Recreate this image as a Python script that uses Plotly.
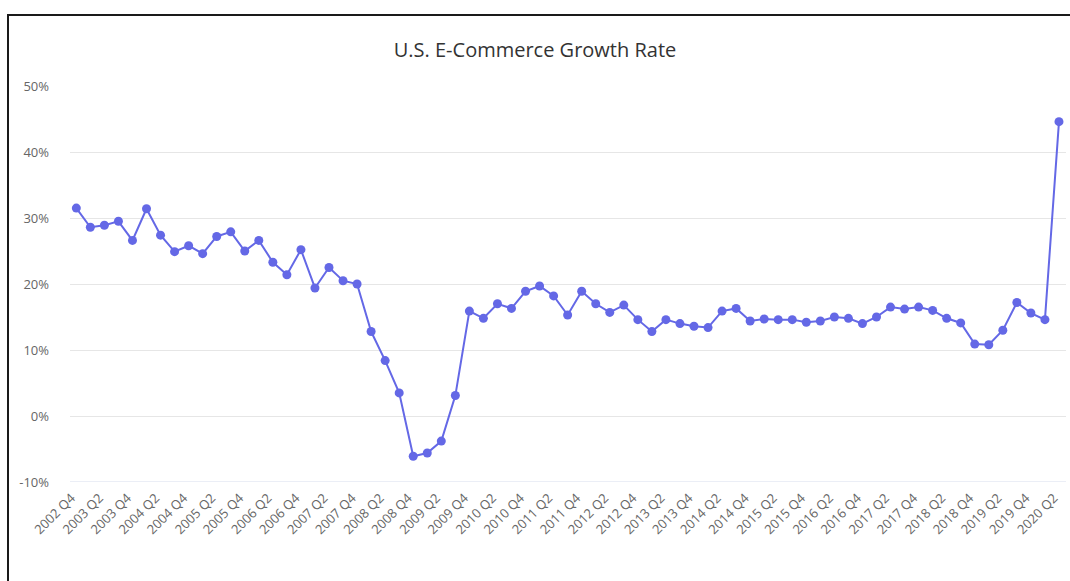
import plotly.graph_objects as go

# Quarterly labels, 2002 Q4 through 2020 Q2
quarters = []
for year in range(2002, 2021):
    for q in range(1, 5):
        if (year == 2002 and q < 4) or (year == 2020 and q > 2):
            continue
        quarters.append(f"{year} Q{q}")

# Year-over-year growth of U.S. e-commerce sales, percent
growth = [
    31.5, 28.6, 28.9, 29.5, 26.6, 31.4, 27.4, 24.9, 25.8, 24.6,
    27.2, 27.9, 25.0, 26.6, 23.3, 21.4, 25.2, 19.4, 22.5, 20.5,
    20.0, 12.8, 8.4, 3.5, -6.1, -5.6, -3.8, 3.1, 15.9, 14.8,
    17.0, 16.3, 18.9, 19.7, 18.2, 15.3, 18.9, 17.0, 15.7, 16.8,
    14.6, 12.8, 14.6, 14.0, 13.6, 13.4, 15.9, 16.3, 14.4, 14.7,
    14.6, 14.6, 14.2, 14.4, 15.0, 14.8, 14.0, 15.0, 16.5, 16.2,
    16.5, 16.0, 14.8, 14.1, 10.9, 10.8, 13.0, 17.2, 15.6, 14.6,
    44.6,
]

y_ticks = [-10, 0, 10, 20, 30, 40, 50]
y_tick_text = [f"{v}%" for v in y_ticks]

# Only every second quarter gets a label
x_tick_vals = quarters[::2]

LINE_COLOR = "#6468e6"

fig = go.Figure(
    go.Scatter(
        x=quarters,
        y=growth,
        mode="lines+markers",
        line=dict(color=LINE_COLOR, width=2),
        marker=dict(color=LINE_COLOR, size=9),
        name="Growth",
    )
)

fig.update_layout(
    width=1070,
    height=581,
    margin=dict(l=70, r=4, t=86, b=99),
    paper_bgcolor="white",
    plot_bgcolor="white",
    showlegend=False,
    font=dict(family="Open Sans, DejaVu Sans, sans-serif", color="#666666"),
    title=dict(
        text="U.S. E-Commerce Growth Rate",
        x=0.5,
        xref="container",
        xanchor="center",
        y=1 - 50 / 581,
        yref="container",
        yanchor="middle",
        font=dict(size=20, color="#333333"),
    ),
    xaxis=dict(
        type="category",
        categoryorder="array",
        categoryarray=quarters,
        tickmode="array",
        tickvals=x_tick_vals,
        ticktext=x_tick_vals,
        tickangle=-45,
        tickfont=dict(size=13, color="#666666"),
        ticklabelstandoff=5,
        ticklabelshift=-5,
        range=[-0.45, len(quarters) - 1 + 0.5],
        showgrid=False,
        showline=False,
        zeroline=False,
        ticks="",
    ),
    yaxis=dict(
        tickmode="array",
        tickvals=y_ticks,
        ticktext=y_tick_text,
        range=[-10, 50],
        tickfont=dict(size=13, color="#666666"),
        showgrid=True,
        gridcolor="#e6e6e6",
        gridwidth=1,
        zeroline=False,
        showline=False,
        ticks="",
        ticklabelstandoff=20,
    ),
)

# Bottom baseline of the plot in the axis-line tint
fig.add_shape(
    type="line", xref="paper", yref="y",
    x0=0, x1=1, y0=-10, y1=-10,
    line=dict(color="#d6dcec", width=1),
    layer="below",
)

# Dark frame round the chart
fig.add_shape(
    type="rect", xref="paper", yref="paper",
    x0=(8 - 70) / 996, x1=(1075 - 70) / 996,
    y0=(482 - 600) / 396, y1=(482 - 15) / 396,
    line=dict(color="#1a1a1a", width=2),
    fillcolor="rgba(0,0,0,0)",
)

fig.write_html("out.html")
